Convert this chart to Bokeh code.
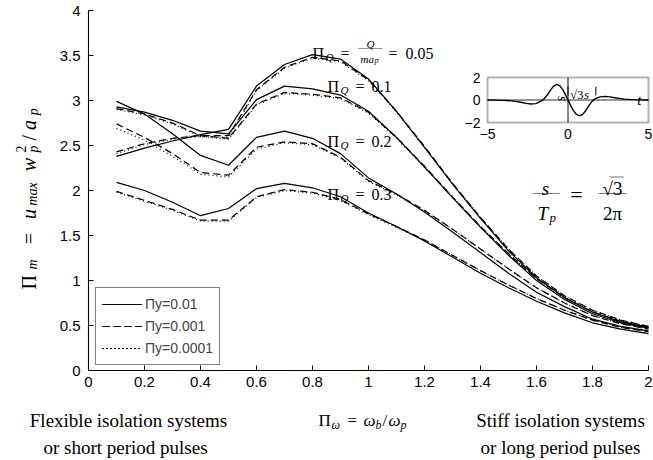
import math
from bokeh.plotting import figure
from bokeh.models import (Range1d, Label, BoxAnnotation, Legend, LegendItem,
                          FixedTicker, Arrow, TeeHead)
from bokeh.embed import file_html
from bokeh.resources import INLINE

# ---------------- data ----------------
pi_omega = [0.1, 0.2, 0.3, 0.4, 0.5, 0.6, 0.7, 0.8, 0.9, 1.0,
            1.1, 1.2, 1.3, 1.4, 1.5, 1.6, 1.7, 1.8, 1.9, 2.0]

q005_y001 = [2.38, 2.47, 2.55, 2.62, 2.68, 3.16, 3.40, 3.51, 3.46, 3.24,
             2.88, 2.48, 2.07, 1.69, 1.33, 1.03, 0.81, 0.65, 0.54, 0.48]
q005_y0001 = [2.43, 2.52, 2.58, 2.61, 2.61, 3.12, 3.37, 3.48, 3.44, 3.23,
              2.88, 2.49, 2.08, 1.70, 1.35, 1.05, 0.83, 0.67, 0.56, 0.49]
q005_y00001 = [2.41, 2.51, 2.57, 2.60, 2.59, 3.11, 3.36, 3.47, 3.43, 3.22,
               2.87, 2.48, 2.08, 1.70, 1.35, 1.05, 0.83, 0.67, 0.56, 0.49]

q01_y001 = [2.93, 2.87, 2.78, 2.66, 2.63, 3.01, 3.16, 3.13, 3.06, 2.88,
            2.59, 2.26, 1.92, 1.59, 1.28, 1.00, 0.79, 0.63, 0.53, 0.47]
q01_y0001 = [2.91, 2.85, 2.75, 2.61, 2.58, 2.96, 3.09, 3.07, 3.03, 2.87,
             2.59, 2.27, 1.93, 1.60, 1.30, 1.02, 0.81, 0.65, 0.55, 0.48]
q01_y00001 = [2.90, 2.84, 2.74, 2.60, 2.57, 2.95, 3.08, 3.06, 3.02, 2.86,
              2.58, 2.26, 1.93, 1.60, 1.30, 1.02, 0.81, 0.65, 0.55, 0.48]

q02_y001 = [2.99, 2.85, 2.63, 2.39, 2.28, 2.59, 2.66, 2.58, 2.41, 2.14,
            1.96, 1.76, 1.54, 1.31, 1.08, 0.87, 0.71, 0.57, 0.49, 0.44]
q02_y0001 = [2.74, 2.59, 2.41, 2.20, 2.17, 2.48, 2.54, 2.52, 2.37, 2.11,
             1.96, 1.78, 1.57, 1.35, 1.13, 0.92, 0.75, 0.61, 0.52, 0.46]
q02_y00001 = [2.69, 2.56, 2.38, 2.18, 2.15, 2.46, 2.53, 2.51, 2.36, 2.10,
              1.95, 1.77, 1.57, 1.35, 1.13, 0.92, 0.75, 0.61, 0.52, 0.46]

q03_y001 = [2.09, 2.00, 1.87, 1.72, 1.80, 2.02, 2.08, 2.03, 1.93, 1.75,
            1.60, 1.44, 1.26, 1.08, 0.92, 0.77, 0.64, 0.53, 0.46, 0.41]
q03_y0001 = [1.99, 1.89, 1.79, 1.67, 1.67, 1.93, 2.01, 1.98, 1.90, 1.74,
             1.60, 1.45, 1.28, 1.11, 0.95, 0.80, 0.67, 0.56, 0.48, 0.43]
q03_y00001 = [1.98, 1.88, 1.78, 1.66, 1.66, 1.92, 2.00, 1.97, 1.89, 1.73,
              1.59, 1.45, 1.28, 1.11, 0.95, 0.80, 0.67, 0.56, 0.48, 0.43]

legend_labels = ["\u03a0y=0.01", "\u03a0y=0.001", "\u03a0y=0.0001"]

x_ticks = [0, 0.2, 0.4, 0.6, 0.8, 1, 1.2, 1.4, 1.6, 1.8, 2]
x_tick_labels = ["0", "0.2", "0.4", "0.6", "0.8", "1", "1.2", "1.4", "1.6", "1.8", "2"]
y_ticks = [0, 0.5, 1, 1.5, 2, 2.5, 3, 3.5, 4]
y_tick_labels = ["0", "0.5", "1", "1.5", "2", "2.5", "3", "3.5", "4"]

# inset pulse
pulse_t = [-5, -4.5, -4, -3.5, -3, -2.6, -2.3, -2.0, -1.7, -1.5, -1.3, -1.1, -0.9,
           -0.7, -0.5, -0.3, -0.1, 0.1, 0.3, 0.5, 0.7, 0.9, 1.1, 1.3, 1.5, 1.7,
           2.0, 2.3, 2.6, 3.0, 3.5, 4.0, 4.5, 5.0]
pulse_a = [0.0, -0.01, -0.03, -0.08, -0.18, -0.30, -0.36, -0.32, -0.12, 0.08, 0.42,
           0.85, 1.22, 1.38, 1.25, 0.85, 0.30, -0.30, -0.85, -1.25, -1.40, -1.30,
           -0.95, -0.50, -0.10, 0.12, 0.28, 0.32, 0.28, 0.18, 0.08, 0.03, 0.01, 0.0]
inset_t_ticks = [-5, 0, 5]
inset_t_labels = ["\u22125", "0", "5"]
inset_a_ticks = [-2, 0, 2]
inset_a_labels = ["\u22122", "0", "2"]

# ---------------- layout helpers (pixel -> data) ----------------
SERIF = "Liberation Serif"
SANS = "Liberation Sans"
W, H = 653, 460
X0PX, XPX = 88.0, 280.0     # x=0 at pixel 88, 280 px per unit
Y0PX, YPX = 370.0, 90.0     # y=0 at pixel 370, 90 px per unit


def dx(px):
    return (px - X0PX) / XPX


def dy(py):
    return (Y0PX - py) / YPX


p = figure(width=W, height=H, x_range=Range1d(dx(0), dx(W)), y_range=Range1d(dy(H), dy(0)),
           output_backend="svg", toolbar_location=None, min_border=0)
p.outline_line_color = None
p.grid.visible = False

for ax, ticks, labels in ((p.xaxis, x_ticks, x_tick_labels), (p.yaxis, y_ticks, y_tick_labels)):
    ax.ticker = FixedTicker(ticks=ticks)
    ax.major_label_overrides = dict(zip(ticks, labels))
    ax.fixed_location = 0
    ax.bounds = (ticks[0], ticks[-1])
    ax.major_tick_in = 5
    ax.major_tick_out = 0
    ax.minor_tick_line_color = None
    ax.axis_line_color = "black"
    ax.axis_line_width = 1.1
    ax.major_tick_line_color = "black"
    ax.major_label_text_font = SANS
    ax.major_label_text_font_size = "15px"
    ax.major_label_text_color = "black"
p.xaxis.major_label_standoff = 6
p.yaxis.major_label_standoff = 8

DASH = {"solid": "solid", "dashed": "7 4", "dotted": "1 3"}
groups = [
    (q005_y001, q005_y0001, q005_y00001),
    (q01_y001, q01_y0001, q01_y00001),
    (q02_y001, q02_y0001, q02_y00001),
    (q03_y001, q03_y0001, q03_y00001),
]
rend = {"solid": [], "dashed": [], "dotted": []}
for g in groups:
    for vals, style in zip(g, ("solid", "dashed", "dotted")):
        r = p.line(pi_omega, vals, line_color="black", line_width=1.2,
                   line_dash=DASH[style])
        rend[style].append(r)

legend = Legend(items=[LegendItem(label=lab, renderers=rend[s])
                       for lab, s in zip(legend_labels, ("solid", "dashed", "dotted"))],
                location=(95, H - 365))
legend.margin = 0
legend.padding = 6
legend.spacing = 2
legend.glyph_width = 40
legend.glyph_height = 20
legend.label_height = 20
legend.label_standoff = 3
legend.label_text_font = SANS
legend.label_text_font_size = "14px"
legend.border_line_color = "black"
legend.border_line_width = 1.2
legend.background_fill_alpha = 1
p.add_layout(legend)


def label(x, y, text, size, style="normal", font=SERIF, align="left",
          baseline="alphabetic", xo=0.0, yo=0.0, angle=0.0):
    p.add_layout(Label(x=x, y=y, x_offset=xo, y_offset=yo, text=text, angle=angle,
                       text_font=font, text_font_size=f"{size}px",
                       text_font_style=style, text_align=align,
                       text_baseline=baseline, text_color="black"))


def hbar(x, y, dx0, dx1, dyy, width=1.0):
    p.add_layout(BoxAnnotation(left=x + dx0 / XPX, right=x + dx1 / XPX,
                               bottom=y + dyy / YPX, top=y + dyy / YPX,
                               fill_color=None, line_color="black", line_width=width))


# ---------------- Pi_Q annotations ----------------
def piq(px, py, tail):
    x, y = dx(px), dy(py)
    label(x, y, "\u03a0", 16)
    label(x, y, "Q", 11, "italic", xo=13, yo=-3)
    label(x, y, "=", 16, xo=28)
    label(x, y, tail, 16, xo=44)


piq(327, 86, "0.1")
piq(327, 141, "0.2")
piq(327, 194, "0.3")

tx, ty = dx(312), dy(53)
label(tx, ty, "\u03a0", 16)
label(tx, ty, "Q", 11, "italic", xo=13, yo=-3)
label(tx, ty, "=", 16, xo=28)
label(tx, ty, "Q", 11, "italic", align="center", xo=58, yo=10)
hbar(tx, ty, 46, 70, 5, 0.8)
label(tx, ty, "ma", 11, "italic", xo=48, yo=-5)
label(tx, ty, "p", 8, "italic", xo=62, yo=-7)
label(tx, ty, "=", 16, xo=76)
label(tx, ty, "0.05", 16, xo=93)

# ---------------- axis titles ----------------
bx, by = dx(318), dy(420)
label(bx, by, "\u03a0", 17)
label(bx, by, "\u03c9", 12, "italic", xo=13, yo=-4)
label(bx, by, "=", 17, xo=29)
label(bx, by, "\u03c9", 17, "italic", xo=45)
label(bx, by, "b", 12, "italic", xo=57, yo=-4)
label(bx, by, "/", 17, xo=64)
label(bx, by, "\u03c9", 17, "italic", xo=70)
label(bx, by, "p", 12, "italic", xo=82, yo=-4)

# vertical title: pieces stacked upward from the bottom start
vx, vy = dx(28), dy(289)
vparts = [("\u03a0", 20, "normal", 0, 0), ("m", 14, "italic", -4, 15),
          ("=", 20, "normal", 0, 34), ("u", 20, "italic", 0, 53),
          ("max", 14, "italic", -4, 63), ("w", 20, "italic", 0, 89),
          ("2", 14, "normal", 8, 103), ("p", 14, "italic", -5, 103),
          ("/", 20, "normal", 0, 112), ("a", 20, "italic", 0, 120),
          ("p", 14, "italic", -5, 131)]
for t, s, st, rise, pos in vparts:
    label(vx, vy, t, s, st, xo=-rise, yo=pos * 1.33, angle=math.pi / 2)

# ---------------- bottom explanatory texts ----------------
label(dx(128), dy(420), "Flexible isolation systems", 19, align="center")
label(dx(125), dy(447), "or short period pulses", 19, align="center")
label(dx(560), dy(420), "Stiff isolation systems", 19, align="center")
label(dx(560), dy(447), "or long period pulses", 19, align="center")

# ---------------- s/Tp = sqrt(3)/(2 pi) ----------------
ex, ey = dx(576), dy(195)
label(ex, ey, "=", 22, align="center", baseline="middle", yo=1)
hbar(ex, ey, -44, -17, 2, 1.0)
label(ex, ey, "s", 19, "italic", align="center", xo=-31, yo=7)
label(ex, ey, "T", 19, "italic", xo=-39, yo=-18)
label(ex, ey, "p", 13, "italic", xo=-27, yo=-22)
hbar(ex, ey, 22, 50, 2, 1.0)
label(ex, ey, "\u221a3", 19, align="center", xo=36, yo=7)
hbar(ex, ey, 33, 47, 18.5, 1.0)
label(ex, ey, "2\u03c0", 19, align="center", xo=36, yo=-18)

# ---------------- inset ----------------
IX0, IX1 = dx(487), dx(648)
IY0, IY1 = dy(122), dy(77)
src_t = Range1d(inset_t_ticks[0], inset_t_ticks[-1])
src_a = Range1d(inset_a_ticks[0], inset_a_ticks[-1])
sub = p.subplot(x_source=src_t, y_source=src_a,
                x_target=Range1d(IX0, IX1), y_target=Range1d(IY0, IY1))


def imap(t, a):
    return (IX0 + (t - src_t.start) / (src_t.end - src_t.start) * (IX1 - IX0),
            IY0 + (a - src_a.start) / (src_a.end - src_a.start) * (IY1 - IY0))


sub.segment(x0=[inset_t_ticks[0], inset_t_ticks[1]], y0=[inset_a_ticks[1], inset_a_ticks[0]],
            x1=[inset_t_ticks[-1], inset_t_ticks[1]], y1=[inset_a_ticks[1], inset_a_ticks[-1]],
            line_color="#333333", line_width=1.2)
sub.line(pulse_t, pulse_a, line_color="black", line_width=1.4)
p.add_layout(BoxAnnotation(left=IX0, right=IX1, bottom=IY0, top=IY1,
                           fill_color=None, line_color="black", line_width=2))
for tv, tl in zip(inset_t_ticks, inset_t_labels):
    mx, my = imap(tv, src_a.start)
    label(mx, my, tl, 14, font=SANS, align="center", baseline="top", yo=-6)
for av, al in zip(inset_a_ticks, inset_a_labels):
    mx, my = imap(src_t.start, av)
    label(mx, my, al, 14, font=SANS, align="right", baseline="middle", xo=-7)

mx, my = imap(4.3, 0.0)
label(mx, my, "t", 15, "italic", baseline="middle")
mx, my = imap(0.12, 0.5)
label(mx, my, "\u221a3", 13)
label(mx, my, "s", 13, "italic", xo=14)
ax0, ay0 = imap(0.0, 0.8)
ax1, ay1 = imap(1.73, 0.8)
p.add_layout(Arrow(x_start=ax0, y_start=ay0, x_end=ax1, y_end=ay1, line_alpha=0,
                   start=TeeHead(size=9, line_width=1), end=TeeHead(size=9, line_width=1)))
mx, my = imap(-0.45, 0.1)
label(mx, my, "s", 14, "italic", angle=math.pi / 2, align="center")

open("out.html", "w").write(file_html(p, INLINE))
